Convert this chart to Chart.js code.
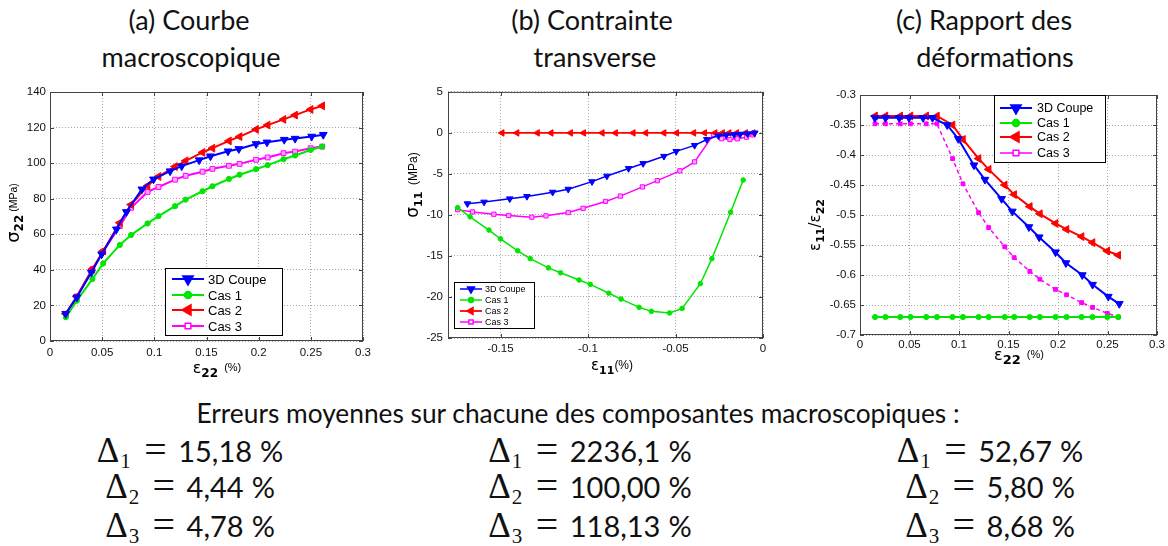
<!DOCTYPE html>
<html><head><meta charset="utf-8">
<script src="https://cdn.jsdelivr.net/npm/chart.js@4/dist/chart.umd.min.js"></script>
<style>
body{margin:0;width:1168px;height:546px;background:#fff;position:relative;overflow:hidden;font-family:Lato,sans-serif;color:#111}
.t{position:absolute;transform:translateX(-50%);white-space:nowrap;line-height:1}
.ti{font-size:27px}
.er{font-size:26.3px}
.eq{font-size:29px;height:29px}
.m{font-family:"Liberation Serif",serif;font-size:35px;line-height:0}
.m sub{font-size:21px;vertical-align:-6px;line-height:0;margin-left:1px}
.es{font-family:"Liberation Serif",serif;font-size:38px;line-height:0;margin:0 12px 0 14px;display:inline-block;transform:scaleX(1.05)}
.pc{margin-left:8px}
canvas{position:absolute}
</style></head>
<body>
<div class="t ti" style="left:189px;top:6px">(a) Courbe</div>
<div class="t ti" style="left:191px;top:43px">macroscopique</div>
<div class="t ti" style="left:592px;top:6px">(b) Contrainte</div>
<div class="t ti" style="left:595px;top:43px">transverse</div>
<div class="t ti" style="left:984px;top:6px">(c) Rapport des</div>
<div class="t ti" style="left:995px;top:43px">déformations</div>
<div class="t er" style="left:578px;top:400px">Erreurs moyennes sur chacune des composantes macroscopiques :</div>
<div id="eqs"></div>
<canvas id="ca" width="378" height="305" style="left:0;top:80px"></canvas>
<canvas id="cb" width="378" height="305" style="left:400px;top:80px"></canvas>
<canvas id="cc" width="378" height="300" style="left:790px;top:80px"></canvas>
<script>
// ---------- data ----------
const seriesNames = ['3D Coupe', 'Cas 1', 'Cas 2', 'Cas 3'];
const strain22 = [0.0152,0.0257,0.0406,0.051,0.0669,0.0777,0.0935,0.104,0.1198,0.13,0.1462,0.1557,0.1715,0.1817,0.1975,0.2086,0.2238,0.2349,0.2498,0.2609];
const strain22_3D = [0.015,0.0257,0.0396,0.0495,0.0637,0.0732,0.0881,0.0992,0.1151,0.1262,0.143,0.1538,0.1706,0.181,0.1975,0.208,0.2245,0.2349,0.2508,0.2619];
// (a) sigma22 (MPa)
const sig22_3D  = [15.3,24.6,38.5,48.8,62.8,72.6,85.3,90.9,95.5,98.3,101.7,103.9,106.7,108,110.8,111.7,113.2,113.8,115,116];
const sig22_cas1 = [13.4,22.7,34.8,43.6,54,59.6,66.1,70.2,75.8,79.5,84.2,87,91.1,93.5,96.6,98.9,102.2,104.3,107.4,109.3];
const sig22_cas2 = [15.3,25,40.4,50.6,66.5,76.7,87.3,92.5,98.1,101.3,106,108.4,112.5,114.9,119,121.4,124.6,127,130.2,132.2];
const sig22_cas3 = [15.3,25,40.4,50.3,64.6,74.9,83.8,86.6,90.7,92.9,95.2,96.8,98.5,99.6,101.9,103.2,105.6,106.5,108.4,109.3];
// (b) eps11 (%) and sigma11 (MPa)
const eps11_3D  = [-0.0047,-0.0088,-0.013,-0.0165,-0.021,-0.0255,-0.0321,-0.0391,-0.0496,-0.0566,-0.0685,-0.0768,-0.0892,-0.0977,-0.1113,-0.1202,-0.1349,-0.1447,-0.1594,-0.1689];
const sig11_3D  = [0,-0.1,-0.15,-0.2,-0.25,-0.35,-0.8,-1.52,-2.25,-2.85,-3.73,-4.33,-5.26,-5.94,-6.86,-7.22,-7.74,-8.03,-8.43,-8.63];
const eps11_cas1 = [-0.0113,-0.0185,-0.0292,-0.0358,-0.0462,-0.0534,-0.0638,-0.0708,-0.0811,-0.0881,-0.0987,-0.1051,-0.1157,-0.1226,-0.133,-0.1402,-0.15,-0.1566,-0.1674,-0.1745];
const sig11_cas1 = [-5.74,-9.67,-15.33,-18.38,-21.39,-21.95,-21.75,-21.26,-20.26,-19.54,-18.46,-17.93,-17.05,-16.45,-15.33,-14.37,-12.92,-11.84,-10.23,-9.11];
const eps11_cas2 = [-0.0057,-0.01,-0.0151,-0.0194,-0.0232,-0.0274,-0.0334,-0.0396,-0.0494,-0.0566,-0.067,-0.0742,-0.0843,-0.0919,-0.1025,-0.11,-0.1211,-0.1289,-0.1406,-0.1491];
const sig11_cas2 = [0,0,0,0,0,0,0,0,0,0,0,0,0,0,0,0,0,0,0,0];
const eps11_cas3 = [-0.0057,-0.0094,-0.0147,-0.0189,-0.0236,-0.0283,-0.0391,-0.0475,-0.0604,-0.0689,-0.0815,-0.09,-0.1028,-0.1113,-0.124,-0.1321,-0.1453,-0.1538,-0.166,-0.1745];
const sig11_cas3 = [-0.24,-0.52,-0.72,-0.8,-0.7,-0.2,-3.53,-4.62,-5.82,-6.58,-7.7,-8.35,-9.19,-9.71,-10.11,-10.27,-10.07,-9.91,-9.63,-9.35];
// (c) eps11/eps22
const ratio_3D  = [-0.338,-0.338,-0.338,-0.338,-0.338,-0.338,-0.35,-0.373,-0.417,-0.441,-0.473,-0.494,-0.52,-0.537,-0.562,-0.58,-0.6,-0.616,-0.636,-0.648];
const ratio_cas1 = [-0.67,-0.67,-0.67,-0.67,-0.67,-0.67,-0.67,-0.67,-0.67,-0.67,-0.67,-0.67,-0.67,-0.67,-0.67,-0.67,-0.67,-0.67,-0.67,-0.67];
const ratio_cas2 = [-0.335,-0.335,-0.335,-0.335,-0.335,-0.335,-0.35,-0.374,-0.406,-0.424,-0.45,-0.466,-0.486,-0.498,-0.514,-0.524,-0.536,-0.546,-0.56,-0.567];
const ratio_cas3 = [-0.348,-0.348,-0.348,-0.348,-0.348,-0.348,-0.406,-0.448,-0.496,-0.521,-0.553,-0.571,-0.594,-0.607,-0.624,-0.633,-0.646,-0.654,-0.664,-0.67];
// ticks
const ticksA_x = [0,0.05,0.1,0.15,0.2,0.25,0.3];
const labelsA_x = ['0','0.05','0.1','0.15','0.2','0.25','0.3'];
const ticksA_y = [0,20,40,60,80,100,120,140];
const labelsA_y = ['0','20','40','60','80','100','120','140'];
const ticksB_x = [-0.15,-0.1,-0.05,0];
const labelsB_x = ['-0.15','-0.1','-0.05','0'];
const ticksB_y = [-25,-20,-15,-10,-5,0,5];
const labelsB_y = ['-25','-20','-15','-10','-5','0','5'];
const ticksC_x = [0,0.05,0.1,0.15,0.2,0.25,0.3];
const labelsC_x = ['0','0.05','0.1','0.15','0.2','0.25','0.3'];
const ticksC_y = [-0.7,-0.65,-0.6,-0.55,-0.5,-0.45,-0.4,-0.35,-0.3];
const labelsC_y = ['-0.7','-0.65','-0.6','-0.55','-0.5','-0.45','-0.4','-0.35','-0.3'];
// errors
const errLabels = ['1','2','3'];
const errA = ['15,18','4,44','4,78'];
const errB = ['2236,1','100,00','118,13'];
const errC = ['52,67','5,80','8,68'];

// ---------- error text ----------
(function(){
  const cols = [[190, errA],[590, errB],[990, errC]];
  const tops = [436, 472, 511];
  let h = '';
  cols.forEach(([cx, vals]) => vals.forEach((v,i) => {
    h += `<div class="t eq" style="left:${cx}px;top:${tops[i]}px"><span class="m">Δ<sub>${errLabels[i]}</sub></span><span class="es">=</span>${v}<span class="pc">%</span></div>`;
  }));
  document.getElementById('eqs').innerHTML = h;
})();

// ---------- helpers ----------
const COL = {blue:'#0000ff', green:'#00e600', red:'#ff0000', mag:'#ff00ff'};
function pts(xs, ys){ return xs.map((x,i)=>({x:x, y:ys[i]})); }
function mk(label, data, color, style, rot, r, bw, fill, dash){
  return {label, data, borderColor:color, backgroundColor:color, borderWidth:bw,
    pointStyle:style, pointRotation:rot, pointRadius:r, pointBorderWidth:1,
    pointBackgroundColor:fill||color, pointBorderColor:color, borderDash:dash||[], tension:0, fill:false};
}
function drawParts(ctx, parts, cx, cy, rotate){
  ctx.save();
  ctx.translate(cx, cy);
  if (rotate) ctx.rotate(-Math.PI/2);
  ctx.textBaseline = 'alphabetic';
  ctx.fillStyle = '#000';
  let w = 0;
  parts.forEach(p => { ctx.font = p[1]; w += ctx.measureText(p[0]).width; });
  let x = -w/2;
  parts.forEach(p => { ctx.font = p[1]; ctx.fillText(p[0], x, p[2]); x += ctx.measureText(p[0]).width; });
  ctx.restore();
}
const framePlugin = {
  id:'frame',
  beforeDatasetsDraw(chart, args, o){
    const {ctx, chartArea:a, scales:{x, y}} = chart;
    ctx.save();
    ctx.strokeStyle = '#444'; ctx.lineWidth = 1;
    ctx.strokeRect(a.left+0.5, a.top+0.5, a.right-a.left-1, a.bottom-a.top-1);
    const L = 4;
    ctx.beginPath();
    x.ticks.forEach(t => { const p = Math.round(x.getPixelForValue(t.value))+0.5;
      ctx.moveTo(p, a.bottom); ctx.lineTo(p, a.bottom-L); ctx.moveTo(p, a.top); ctx.lineTo(p, a.top+L); });
    y.ticks.forEach(t => { const p = Math.round(y.getPixelForValue(t.value))+0.5;
      ctx.moveTo(a.left, p); ctx.lineTo(a.left+L, p); ctx.moveTo(a.right, p); ctx.lineTo(a.right-L, p); });
    ctx.stroke();
    ctx.restore();
  },
  afterDraw(chart, args, o){
    const ctx = chart.ctx;
    drawParts(ctx, o.yTitle.parts, o.yTitle.x - o.ox, o.yTitle.y - o.oy, true);
    drawParts(ctx, o.xTitle.parts, o.xTitle.x - o.ox, o.xTitle.y - o.oy, false);
    const L = o.legend;
    const lx = L.x - o.ox, ly = L.y - o.oy;
    ctx.save();
    ctx.fillStyle = '#fff'; ctx.fillRect(lx, ly, L.w, L.h);
    ctx.strokeStyle = '#000'; ctx.lineWidth = 1; ctx.strokeRect(lx+0.5, ly+0.5, L.w, L.h);
    chart.data.datasets.forEach((d, i) => {
      const yy = L.rows[i] - o.oy;
      const x0 = L.x0 - o.ox, x1 = L.x1 - o.ox;
      ctx.strokeStyle = d.borderColor; ctx.lineWidth = d.borderWidth;
      ctx.beginPath(); ctx.moveTo(x0, yy); ctx.lineTo(x1, yy); ctx.stroke();
      ctx.fillStyle = (d.pointStyle === 'rect') ? '#fff' : d.borderColor;
      ctx.strokeStyle = d.borderColor; ctx.lineWidth = 1.5;
      Chart.helpers.drawPoint(ctx, {pointStyle:d.pointStyle, rotation:d.pointRotation, radius:L.r[i], borderWidth:1.5}, (x0+x1)/2, yy);
      ctx.fillStyle = '#000'; ctx.font = L.font; ctx.textBaseline = 'middle';
      ctx.fillText(d.label, L.tx - o.ox, yy + 1);
    });
    ctx.restore();
  }
};
function scales(xmin, xmax, xt, xl, ymin, ymax, yt, yl, yW, xH, xPad, yPad){
  const tickFont = {family:'Liberation Sans', size:11.5};
  return {
    x:{type:'linear', min:xmin, max:xmax,
      afterBuildTicks:s => { s.ticks = xt.map(v => ({value:v})); },
      afterFit:s => { s.height = xH; },
      ticks:{callback:(v,i) => xl[i], font:tickFont, color:'#111', padding:xPad, maxRotation:0, autoSkip:false},
      grid:{color:'#a8a8a8', lineWidth:1, drawTicks:false}, border:{display:false, dash:[1,2]}},
    y:{type:'linear', min:ymin, max:ymax,
      afterBuildTicks:s => { s.ticks = yt.map(v => ({value:v})); },
      afterFit:s => { s.width = yW; },
      ticks:{callback:(v,i) => yl[i], font:tickFont, color:'#111', padding:yPad, autoSkip:false},
      grid:{color:'#a8a8a8', lineWidth:1, drawTicks:false}, border:{display:false, dash:[1,2]}}
  };
}
function make(id, datasets, sc, pad, frame){
  return new Chart(document.getElementById(id), {
    type:'line',
    data:{datasets},
    options:{responsive:false, animation:false, devicePixelRatio:1,
      layout:{padding:pad},
      scales:sc,
      plugins:{legend:{display:false}, tooltip:{enabled:false}, frame:frame}
    },
    plugins:[framePlugin]
  });
}
const F = 'DejaVu Sans';

// ---------- chart (a) ----------
make('ca', [
  mk(seriesNames[0], pts(strain22_3D, sig22_3D), COL.blue, 'triangle', 180, 4.5, 2),
  mk(seriesNames[1], pts(strain22, sig22_cas1), COL.green, 'circle', 0, 2.6, 2),
  mk(seriesNames[2], pts(strain22, sig22_cas2), COL.red, 'triangle', 270, 4.5, 2),
  mk(seriesNames[3], pts(strain22, sig22_cas3), COL.mag, 'rect', 0, 3.4, 2, '#ffa8ff')
], scales(0, 0.3, ticksA_x, labelsA_x, 0, 140, ticksA_y, labelsA_y, 50, 44, 5, 4),
 {left:0, top:12, right:15, bottom:0},
 {ox:0, oy:80,
  yTitle:{x:19, y:213, parts:[['σ','18px "'+F+'"',0],['22','bold 12px "'+F+'"',4],[' (MPa)','10.5px "Liberation Sans"',-2]]},
  xTitle:{x:217, y:373, parts:[['ε','16px "'+F+'"',0],['22','bold 12px "'+F+'"',4],['  (%)','11px "Liberation Sans"',-2]]},
  legend:{x:165, y:268, w:117, h:67, rows:[279,295,310,326], x0:172, x1:204, tx:208, font:'13px "Liberation Sans"', r:[6,3.5,6,4]}
 });

// ---------- chart (b) ----------
make('cb', [
  mk(seriesNames[0], pts(eps11_3D, sig11_3D), COL.blue, 'triangle', 180, 3.8, 1.5),
  mk(seriesNames[1], pts(eps11_cas1, sig11_cas1), COL.green, 'circle', 0, 2.3, 1.5),
  mk(seriesNames[2], pts(eps11_cas2, sig11_cas2), COL.red, 'triangle', 270, 3.8, 1.8),
  mk(seriesNames[3], pts(eps11_cas3, sig11_cas3), COL.mag, 'rect', 0, 3, 1.5, '#ffa8ff')
], scales(-0.18, 0, ticksB_x, labelsB_x, -25, 5, ticksB_y, labelsB_y, 48, 47, 4, 5),
 {left:0, top:10, right:15, bottom:0},
 {ox:400, oy:80,
  yTitle:{x:418, y:185, parts:[['σ','17px "'+F+'"',0],['11','bold 11px "'+F+'"',4],['  (MPa)','12px "Liberation Sans"',-1]]},
  xTitle:{x:612, y:370, parts:[['ε','15px "'+F+'"',0],['11','bold 11px "'+F+'"',4],['(%)','12px "Liberation Sans"',-1]]},
  legend:{x:454, y:282, w:80, h:46, rows:[289,300,311,322], x0:460, x1:482, tx:485, font:'9px "Liberation Sans"', r:[4,2.5,4,3]}
 });

// ---------- chart (c) ----------
make('cc', [
  mk(seriesNames[0], pts(strain22_3D, ratio_3D), COL.blue, 'triangle', 180, 4.5, 2),
  mk(seriesNames[1], pts(strain22, ratio_cas1), COL.green, 'circle', 0, 2.6, 2),
  mk(seriesNames[2], pts(strain22, ratio_cas2), COL.red, 'triangle', 270, 4.5, 2),
  mk(seriesNames[3], pts(strain22, ratio_cas3), COL.mag, 'rect', 0, 2.7, 1.5, COL.mag, [4,3])
], scales(0, 0.3, ticksC_x, labelsC_x, -0.7, -0.3, ticksC_y, labelsC_y, 70, 45, 3, 4),
 {left:0, top:15, right:10, bottom:0},
 {ox:790, oy:80,
  yTitle:{x:820, y:225, parts:[['ε','15px "'+F+'"',0],['11','bold 11px "'+F+'"',4],['/ε','15px "'+F+'"',0],['22','bold 11px "'+F+'"',4]]},
  xTitle:{x:1019, y:360, parts:[['ε','16px "'+F+'"',0],['22','bold 13px "'+F+'"',4],['  (%)','11px "Liberation Sans"',-2]]},
  legend:{x:994, y:95, w:111, h:67, rows:[108,123,137,153], x0:1000, x1:1032, tx:1037, font:'12.5px "Liberation Sans"', r:[6,3.5,6,4]}
 });
</script>
</body></html>
